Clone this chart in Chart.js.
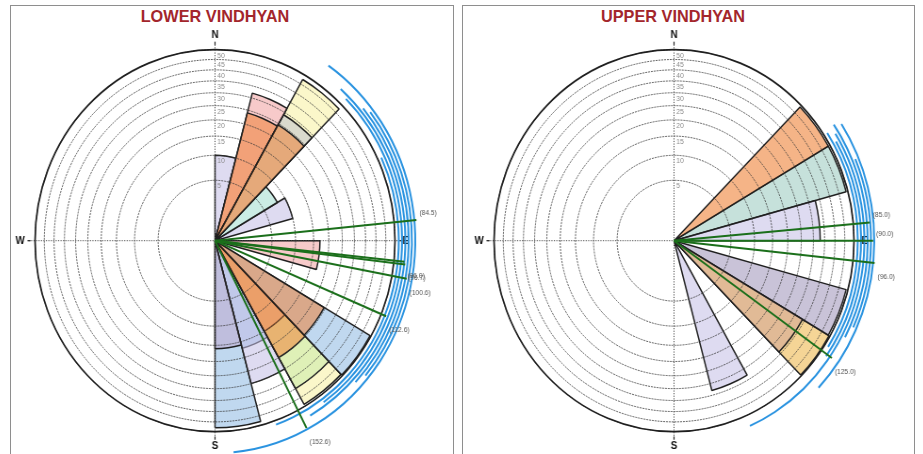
<!DOCTYPE html>
<html>
<head>
<meta charset="utf-8">
<script src="https://cdn.jsdelivr.net/npm/chart.js@4.4.1/dist/chart.umd.min.js"></script>
<style>
html,body{margin:0;padding:0;background:#fff;width:923px;height:454px;overflow:hidden;}
.panel{position:absolute;top:5px;height:470px;border:1.5px solid #8e8e8e;box-sizing:border-box;}
.title{position:absolute;top:7px;font:bold 16.3px "Liberation Sans",Arial,sans-serif;color:#a3262c;white-space:nowrap;transform:translateX(-50%);}
canvas{position:absolute;top:6px;}
</style>
</head>
<body>
<div class="panel" style="left:10px;width:444px"></div>
<div class="panel" style="left:462px;width:453px"></div>
<div class="title" style="left:215px">LOWER VINDHYAN</div>
<div class="title" style="left:673px">UPPER VINDHYAN</div>
<canvas id="lv" width="468" height="448" style="left:11px;width:441px;height:448px"></canvas>
<canvas id="uv" width="468" height="448" style="left:470px;width:441px;height:448px"></canvas>
<script>
// ---- categories: 15-degree azimuth sectors, clockwise from North ----
const sectors = ['0-15','15-30','30-45','45-60','60-75','75-90','90-105','105-120','120-135','135-150','150-165','165-180',
                 '180-195','195-210','210-225','225-240','240-255','255-270','270-285','285-300','300-315','315-330','330-345','345-360'];
// ---- radial (equal-area) scale rings ----
const ringValues = [5,10,15,20,25,30,35,40,45,50];

// ---- LOWER VINDHYAN: frequency (%) per sector, one array per set ----
const LV_lavender = [10,0,0,0,10,0,0,0,0,0,30,0, 0,0,0,0,0,0,0,0,0,0,0,0];
const LV_pink     = [0,32,0,0,0,0,17,0,0,15,0,0, 0,0,0,0,0,0,0,0,0,0,0,0];
const LV_orange   = [0,24,24.5,0,0,0,0,0,24.5,25,0,0, 0,0,0,0,0,0,0,0,0,0,0,0];
const LV_yellow   = [0,0,47.5,0,0,0,0,0,0,49,0,0, 0,0,0,0,0,0,0,0,0,0,0,0];
const LV_gray     = [0,0,29,0,0,0,0,0,0,0,0,0, 0,0,0,0,0,0,0,0,0,0,0,0];
const LV_mint     = [0,0,0,8,0,0,0,0,0,0,0,0, 0,0,0,0,0,0,0,0,0,0,0,0];
const LV_blue     = [0,0,0,0,0,0,0,0,49.5,0,17,48, 0,0,0,0,0,0,0,0,0,0,0,0];
const LV_green    = [0,0,0,0,0,0,0,0,0,40,0,0, 0,0,0,0,0,0,0,0,0,0,0,0];
const LV_purple   = [0,0,0,0,0,0,0,0,0,0,0,16, 0,0,0,0,0,0,0,0,0,0,0,0];
// mean directions (deg) and their plotted lengths (scale units)
const LV_means    = [84.5, 96.0, 96.7, 100.6, 112.6, 152.6];
const LV_meanLen  = [63.2, 56.0, 56.6, 58.7, 53.0, 61.1];
// angular spread arcs (deg)
const LV_arcFrom  = [64.8, 44.4, 41.3, 49.9, 52.0, 34.5];
const LV_arcTo    = [160.6, 144.5, 150.0, 133.5, 130.2, 174.7];

// ---- UPPER VINDHYAN ----
const UV_orange   = [0,0,0,49,0,0,0,0,0,0,0,0, 0,0,0,0,0,0,0,0,0,0,0,0];
const UV_teal     = [0,0,0,0,49,0,0,0,0,0,0,0, 0,0,0,0,0,0,0,0,0,0,0,0];
const UV_lavender = [0,0,0,0,0,33,0,0,0,0,33,0, 0,0,0,0,0,0,0,0,0,0,0,0];
const UV_purple   = [0,0,0,0,0,0,0,49,0,0,0,0, 0,0,0,0,0,0,0,0,0,0,0,0];
const UV_brown    = [0,0,0,0,0,0,0,0,34,0,0,0, 0,0,0,0,0,0,0,0,0,0,0,0];
const UV_gold     = [0,0,0,0,0,0,0,0,49.5,0,0,0, 0,0,0,0,0,0,0,0,0,0,0,0];
const UV_means    = [85.0, 90.0, 96.0, 125.0];
const UV_meanLen  = [59.6, 61.2, 62.8, 57.3];
const UV_arcFrom  = [56.5, 60.0, 58.0, 55.6, 67.0, 56.7];
const UV_arcTo    = [123.0, 125.6, 156.5, 118.0, 114.5, 133.8];

// ---- square-root (equal-area) radial scale ----
class SqrtRadialScale extends Chart.RadialLinearScale {
  static id = 'sqrtRadial';
  static defaults = Chart.RadialLinearScale.defaults;
  getDistanceFromCenterForValue(value) {
    if (value === null || value === undefined || isNaN(value)) return NaN;
    const f = Math.max(0, (value - this.min) / (this.max - this.min));
    return this.drawingArea * Math.sqrt(f);
  }
  getValueForDistanceFromCenter(distance) {
    const f = Math.pow(distance / this.drawingArea, 2);
    return this.min + f * (this.max - this.min);
  }
  fit() {
    const a = this.chart.chartArea || this;
    this.xCenter = (a.left + a.right) / 2;
    this.yCenter = (a.top + a.bottom) / 2;
    this.drawingArea = Math.min(a.right - a.left, a.bottom - a.top) / 2;
  }
}
Chart.register(SqrtRadialScale);

const FONT = '"Liberation Sans", Arial, sans-serif';

const roseOverlay = {
  id: 'roseOverlay',
  afterDraw(chart, args, o) {
    const s = chart.scales.r, ctx = chart.ctx;
    const cx = s.xCenter, cy = s.yCenter, R = s.drawingArea;
    const rad = d => d * Math.PI / 180;
    const pt = (deg, dist) => [cx + dist * Math.sin(rad(deg)), cy - dist * Math.cos(rad(deg))];
    ctx.save();
    // outer circle
    ctx.beginPath();
    ctx.arc(cx, cy, s.getDistanceFromCenterForValue(s.max), 0, Math.PI * 2);
    ctx.strokeStyle = '#1e1e1e'; ctx.lineWidth = 1.7; ctx.stroke();
    // dotted N-S / E-W axes
    ctx.setLineDash([1.2, 1.4]); ctx.strokeStyle = '#4a4a4a'; ctx.lineWidth = 1;
    [0, 90].forEach(d => {
      const a = pt(d, R * 1.04), b = pt(d + 180, R * 1.04);
      ctx.beginPath(); ctx.moveTo(a[0], a[1]); ctx.lineTo(b[0], b[1]); ctx.stroke();
    });
    ctx.setLineDash([]);
    ctx.strokeStyle = '#222'; ctx.lineWidth = 1.2;
    [0, 90, 180, 270].forEach(d => {
      const a = pt(d, R * 1.025), b = pt(d, R * 1.042);
      ctx.beginPath(); ctx.moveTo(a[0], a[1]); ctx.lineTo(b[0], b[1]); ctx.stroke();
    });
    // ring labels
    ctx.font = '7px ' + FONT; ctx.fillStyle = '#8a8a8a';
    ctx.textAlign = 'left'; ctx.textBaseline = 'middle';
    o.rings.forEach(v => {
      const d = s.getDistanceFromCenterForValue(v);
      ctx.fillText(String(v), cx + 2.5, cy - d + 6);
    });
    // compass letters
    ctx.font = 'bold 10.5px ' + FONT; ctx.fillStyle = '#111';
    ctx.textAlign = 'center'; ctx.textBaseline = 'middle';
    [['N', 0, 1.077], ['E', 90, 1.06], ['S', 180, 1.075], ['W', 270, 1.083]].forEach(([t, d, f]) => {
      const p = pt(d, R * f); ctx.fillText(t, p[0], p[1]);
    });
    // spread arcs
    ctx.strokeStyle = '#2a93e0'; ctx.lineWidth = 2;
    o.arcFrom.forEach((a0, i) => {
      const rr = R + 4 + 3.5 * i;
      ctx.beginPath(); ctx.arc(cx, cy, rr, rad(a0 - 90), rad(o.arcTo[i] - 90)); ctx.stroke();
    });
    // mean direction lines
    ctx.strokeStyle = '#1b6f1b'; ctx.lineWidth = 2;
    const ends = o.means.map((m, i) => pt(m, s.getDistanceFromCenterForValue(o.meanLen[i])));
    ends.forEach(e => { ctx.beginPath(); ctx.moveTo(cx, cy); ctx.lineTo(e[0], e[1]); ctx.stroke(); });
    ctx.font = '7px ' + FONT; ctx.fillStyle = '#555'; ctx.textAlign = 'left'; ctx.textBaseline = 'middle';
    o.means.forEach((m, i) => {
      const e = ends[i];
      ctx.fillText('(' + m.toFixed(1) + ')', e[0] + 3.2, m <= 90 ? e[1] - 7 : e[1] + 14);
    });
    ctx.restore();
  }
};

function ds(label, data, color) {
  return { label, data, backgroundColor: color, borderColor: '#1f1f1f', borderWidth: 1.5 };
}

function makeChart(id, datasets, extra) {
  return new Chart(document.getElementById(id), {
    type: 'polarArea',
    data: { labels: sectors, datasets },
    options: {
      responsive: false,
      animation: false,
      events: [],
      layout: { padding: { left: 25.5, right: 60.5, top: 43.7, bottom: 22.3 } },
      plugins: {
        legend: { display: false },
        tooltip: { enabled: false },
        roseOverlay: Object.assign({ rings: ringValues }, extra)
      },
      scales: {
        r: {
          type: 'sqrtRadial',
          min: 0, max: 50,
          startAngle: 0,
          afterBuildTicks: sc => { sc.ticks = [0].concat(ringValues).map(v => ({ value: v })); },
          ticks: { display: false },
          grid: { circular: true, color: 'rgba(55,55,55,0.8)', lineWidth: 1, z: 1 },
          border: { dash: [2, 1] },
          angleLines: { display: false },
          pointLabels: { display: false }
        }
      }
    },
    plugins: [roseOverlay]
  });
}

makeChart('lv', [
  ds('Purple', LV_purple, 'rgba(190,160,200,0.45)'),
  ds('Orange', LV_orange, 'rgba(238,130,55,0.55)'),
  ds('Pink', LV_pink, 'rgba(240,150,150,0.5)'),
  ds('Mint', LV_mint, 'rgba(160,220,205,0.55)'),
  ds('Gray', LV_gray, 'rgba(185,190,210,0.5)'),
  ds('Lavender', LV_lavender, 'rgba(195,190,230,0.55)'),
  ds('Green', LV_green, 'rgba(200,235,170,0.55)'),
  ds('Blue', LV_blue, 'rgba(150,190,228,0.6)'),
  ds('Yellow', LV_yellow, 'rgba(248,240,150,0.5)')
], { means: LV_means, meanLen: LV_meanLen, arcFrom: LV_arcFrom, arcTo: LV_arcTo });

makeChart('uv', [
  ds('Brown', UV_brown, 'rgba(205,160,150,0.5)'),
  ds('Orange', UV_orange, 'rgba(238,130,55,0.6)'),
  ds('Lavender', UV_lavender, 'rgba(195,190,230,0.55)'),
  ds('Teal', UV_teal, 'rgba(160,205,195,0.6)'),
  ds('Purple', UV_purple, 'rgba(165,155,190,0.6)'),
  ds('Gold', UV_gold, 'rgba(238,185,80,0.6)')
], { means: UV_means, meanLen: UV_meanLen, arcFrom: UV_arcFrom, arcTo: UV_arcTo });
</script>
</body>
</html>
